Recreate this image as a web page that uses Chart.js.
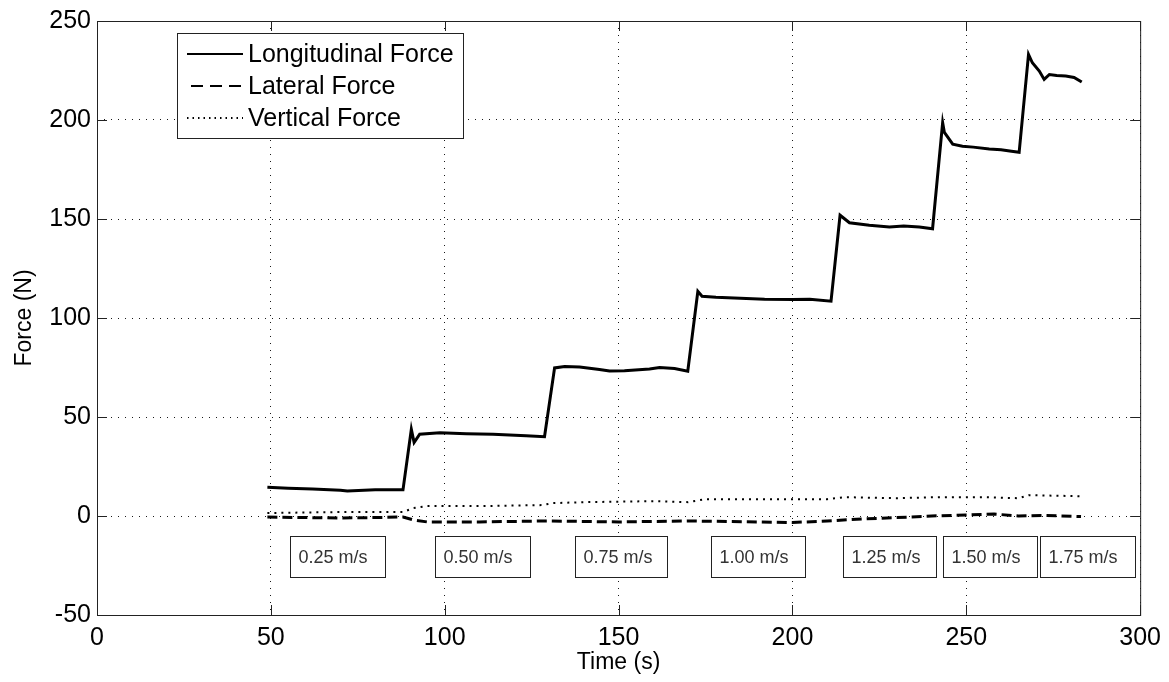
<!DOCTYPE html>
<html>
<head>
<meta charset="utf-8">
<title>Force vs Time</title>
<script src="https://cdn.jsdelivr.net/npm/chart.js@4.4.1/dist/chart.umd.min.js"></script>
<style>
body{margin:0;background:#fff;}
canvas{display:block;}
</style>
</head>
<body>
<canvas id="forceChart" width="1169" height="682"></canvas>
<script>

// DATA

const longTime=[49,55,62,70,72,80,88,90.4,91.2,92.8,98.6,106.2,113.9,123.4,128.7,131.6,134.5,138.8,144.5,147.4,151.7,158.9,161.8,166.1,169.9,172.8,174,178,185,192,200,205,211.1,213.7,216.4,222.1,227.9,232,236.5,240.3,243.2,243.7,246.1,248.9,252,256.6,260,263,265.2,267.9,269,271,272.4,273.9,276,278.6,281,283.2];
const longForce=[14.5,14.0,13.6,13.0,12.6,13.3,13.2,43.8,37.1,41.3,42.0,41.6,41.3,40.5,40.0,74.8,75.5,75.3,74.0,73.2,73.3,74.2,75.0,74.5,73.1,113.5,111.0,110.5,110.0,109.5,109.3,109.5,108.5,151.9,148.1,146.8,146.0,146.5,146.0,145.1,198.7,193.7,187.8,186.7,186.3,185.3,185.0,184.2,183.7,233.1,228.9,224.7,220.5,223.0,222.5,222.2,221.5,219.2];

const latTime=[49,60,70,80,88,91,95,110,130,150,170,190,200,210,220,230,240,250,258,265,272,283];
const latForce=[-0.5,-0.8,-1.0,-0.8,-0.5,-2.0,-3.0,-3.0,-2.5,-3.0,-2.5,-3.0,-3.3,-2.5,-1.5,-0.8,0.0,0.5,1.0,0.0,0.3,-0.3];

const vertTime=[49,70,88,91,95,110,128,131,140,160,170,175,190,210,215,230,242,255,265,268,283];
const vertForce=[1.5,2.0,2.0,4.0,5.0,5.0,5.5,6.5,7.0,7.5,7.0,8.5,8.5,8.5,9.5,9.0,9.5,9.5,9.0,10.5,10.0];

const seriesNames=["Longitudinal Force","Lateral Force","Vertical Force"];

const xTicks=[0,50,100,150,200,250,300];
const yTicks=[-50,0,50,100,150,200,250];

// speed labels along the bottom, boxes in data units
const speedLabels=["0.25 m/s","0.50 m/s","0.75 m/s","1.00 m/s","1.25 m/s","1.50 m/s","1.75 m/s"];
const speedFrom=[55.5,97.3,137.4,176.7,214.4,243.4,271.3];
const speedTo=[82.8,124.4,164.0,203.7,241.4,270.4,298.6];
const speedTop=-10;
const speedBottom=-31;

function toPoints(xs,ys){
return xs.map((x,i)=>({x:x,y:ys[i]}));
}

const FONT="'Liberation Sans', Arial, Helvetica, sans-serif";


// PLUGIN: MATLAB STYLE BOX, INWARD TICKS, LEGEND, SPEED LABELS

const matlabPlugin={
id:"matlabBox",
afterDatasetsDraw(chart){
const ctx=chart.ctx;
const a=chart.chartArea;
const xs=chart.scales.x;
const ys=chart.scales.y;
const tl=10;

ctx.save();

// speed boxes
ctx.font="18px "+FONT;
ctx.textBaseline="middle";
ctx.textAlign="left";
speedLabels.forEach((lab,i)=>{
const x1=Math.round(xs.getPixelForValue(speedFrom[i]))+0.5;
const x2=Math.round(xs.getPixelForValue(speedTo[i]))+0.5;
const y1=Math.round(ys.getPixelForValue(speedTop))+0.5;
const y2=Math.round(ys.getPixelForValue(speedBottom))+0.5;
ctx.fillStyle="#fff";
ctx.fillRect(x1,y1,x2-x1,y2-y1);
ctx.strokeStyle="#222";
ctx.lineWidth=1;
ctx.strokeRect(x1,y1,x2-x1,y2-y1);
ctx.fillStyle="#333";
ctx.fillText(lab,x1+8,(y1+y2)/2+1);
});

// frame
ctx.strokeStyle="#222";
ctx.lineWidth=1;
ctx.setLineDash([]);
ctx.strokeRect(a.left+0.5,a.top+0.5,a.right-a.left,a.bottom-a.top);

// ticks pointing in
ctx.beginPath();
xTicks.forEach(v=>{
const px=Math.round(xs.getPixelForValue(v))+0.5;
ctx.moveTo(px,a.bottom);ctx.lineTo(px,a.bottom-tl);
ctx.moveTo(px,a.top);ctx.lineTo(px,a.top+tl);
});
yTicks.forEach(v=>{
const py=Math.round(ys.getPixelForValue(v))+0.5;
ctx.moveTo(a.left,py);ctx.lineTo(a.left+tl,py);
ctx.moveTo(a.right,py);ctx.lineTo(a.right-tl,py);
});
ctx.stroke();

// legend
const lx=177.5, ly=33.5, lw=286, lh=105;
ctx.fillStyle="#fff";
ctx.fillRect(lx,ly,lw,lh);
ctx.strokeStyle="#222";
ctx.strokeRect(lx,ly,lw,lh);
ctx.font="25px "+FONT;
ctx.textAlign="left";
ctx.textBaseline="middle";
const rows=[54,86,118];
chart.data.datasets.forEach((ds,i)=>{
ctx.save();
ctx.strokeStyle="#000";
ctx.lineWidth=2;
ctx.setLineDash(i==0?[]:(i==1?[12,7]:[1.5,4]));
ctx.beginPath();
ctx.moveTo(i==1?191:187,rows[i]);
ctx.lineTo(243,rows[i]);
ctx.stroke();
ctx.restore();
ctx.fillStyle="#000";
ctx.fillText(ds.label,248,rows[i]+1);
});

ctx.restore();
}
};


// CHART

const ctx=document.getElementById("forceChart").getContext("2d");

const forceChart=new Chart(ctx,{
type:"scatter",
data:{
datasets:[
{
label:seriesNames[0],
data:toPoints(longTime,longForce),
showLine:true,
borderColor:"#000",
borderWidth:3,
pointRadius:0,
tension:0
},
{
label:seriesNames[1],
data:toPoints(latTime,latForce),
showLine:true,
borderColor:"#000",
borderWidth:3,
borderDash:[10,5],
pointRadius:0,
tension:0
},
{
label:seriesNames[2],
data:toPoints(vertTime,vertForce),
showLine:true,
borderColor:"#000",
borderWidth:2,
borderDash:[2,5],
pointRadius:0,
tension:0
}
]
},
options:{
responsive:false,
animation:false,
devicePixelRatio:1,
layout:{padding:{top:18,right:28,left:0,bottom:0}},
plugins:{
legend:{display:false},
tooltip:{enabled:false}
},
scales:{
x:{
type:"linear",
min:0,
max:300,
afterBuildTicks:(s)=>{s.ticks=xTicks.map(v=>({value:v}));},
afterFit:(s)=>{s.height=67;},
ticks:{
color:"#000",
padding:8,
maxRotation:0,
font:{family:FONT,size:25}
},
grid:{
color:"rgba(0,0,0,0.9)",
lineWidth:1,
drawTicks:false
},
border:{display:false,dash:[1,6]},
title:{
display:true,
text:"Time (s)",
color:"#000",
font:{family:FONT,size:23},
padding:{top:0,bottom:6}
}
},
y:{
type:"linear",
min:-50,
max:250,
afterBuildTicks:(s)=>{s.ticks=yTicks.map(v=>({value:v}));},
afterFit:(s)=>{s.width=97;},
ticks:{
color:"#000",
padding:6,
font:{family:FONT,size:25}
},
grid:{
color:"rgba(0,0,0,0.9)",
lineWidth:1,
drawTicks:false
},
border:{display:false,dash:[1,6]},
title:{
display:true,
text:"Force (N)",
color:"#000",
font:{family:FONT,size:23},
padding:{top:11,bottom:0}
}
}
}
},
plugins:[matlabPlugin]
});

</script>
</body>
</html>
